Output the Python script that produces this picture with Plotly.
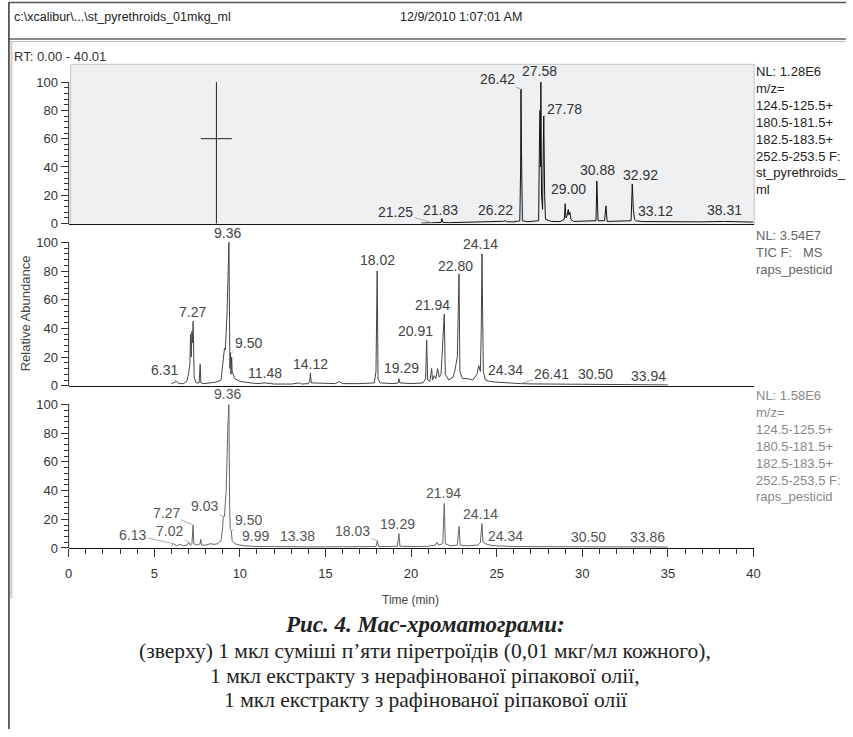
import plotly.graph_objects as go

W, H = 853, 737

# ---------------- data ----------------
# top panel: SIM chromatogram of pyrethroid standard (relative abundance, %)
top_time = [20.6, 21.0, 21.25, 21.6, 21.75, 21.8, 21.85, 22.2, 22.8, 23.5, 24.2, 25.0, 25.4, 25.5, 25.6,
            26.0, 26.22, 26.35, 26.40, 26.42, 26.45, 26.5, 26.8, 27.2, 27.45, 27.50, 27.53, 27.56, 27.58,
            27.62, 27.68, 27.72, 27.75, 27.80, 27.85, 28.2, 28.7, 28.95, 29.0, 29.05, 29.12, 29.18, 29.22,
            29.28, 29.33, 29.5, 30.4, 30.8, 30.85, 30.92, 31.3, 31.38, 31.45, 32.4, 32.85, 32.92, 32.98,
            33.05, 33.12, 33.5, 35.0, 36.0, 37.0, 38.31, 39.0, 40.0]
top_abund = [0.3, 0.4, 0.5, 0.6, 0.8, 3.5, 0.8, 0.6, 0.7, 0.8, 1.0, 1.2, 1.6, 2.0, 1.3,
             1.2, 1.5, 1.8, 40, 95, 50, 2, 1.3, 1.5, 2, 60, 80, 40, 100,
             20, 10, 50, 76, 20, 3, 1.5, 1.4, 3, 14, 4, 6, 10, 6,
             8, 3, 1.5, 1.5, 2, 30, 2, 2, 12.5, 1.5, 1.5, 2, 28, 10,
             3, 2, 1.4, 1.2, 1.3, 1.2, 1.5, 1.2, 1.0]
top_cursor_time = 8.63
top_cursor_level = 60
top_labels = ["21.25", "21.83", "26.22", "26.42", "27.58", "27.78", "29.00", "30.88", "32.92", "33.12", "38.31"]
top_label_rt = [21.25, 21.83, 26.22, 26.42, 27.58, 27.78, 29.00, 30.88, 32.92, 33.12, 38.31]
top_label_h = [0.5, 3.5, 1.5, 95, 100, 76, 14, 30, 28, 2, 1.5]

# middle panel: TIC of unrefined rapeseed oil extract
mid_time = [6.0, 6.2, 6.31, 6.45, 6.7, 6.9, 7.0, 7.08, 7.12, 7.16, 7.2, 7.24, 7.27, 7.30, 7.33, 7.45,
            7.62, 7.68, 7.72, 7.9, 8.3, 8.6, 8.9, 9.05, 9.1, 9.15, 9.25, 9.36, 9.42, 9.45, 9.48, 9.52,
            9.55, 9.7, 10.0, 10.5, 11.0, 11.48, 12.0, 13.0, 13.5, 13.6, 14.0, 14.08, 14.12, 14.17, 15.0,
            15.6, 15.8, 16.0, 17.0, 17.85, 17.95, 18.02, 18.07, 18.2, 19.0, 19.25, 19.29, 19.35, 20.0,
            20.7, 20.85, 20.91, 20.97, 21.1, 21.2, 21.25, 21.35, 21.45, 21.55, 21.65, 21.75, 21.85, 21.94,
            22.0, 22.2, 22.45, 22.55, 22.7, 22.75, 22.80, 22.85, 23.0, 23.3, 23.6, 23.85, 23.95, 24.05,
            24.10, 24.14, 24.18, 24.22, 24.34, 24.6, 25.0, 25.5, 26.0, 26.41, 27.0, 28.0, 30.0, 30.5,
            31.0, 33.0, 33.94, 35.0]
mid_abund = [1.5, 2.5, 3, 1.5, 1.5, 3, 8, 15, 36, 20, 38, 30, 45, 25, 6, 2,
             2, 15, 2, 1.5, 2, 2.5, 4, 20, 26, 25, 50, 100, 12, 23, 8, 20,
             10, 5, 3, 2, 1.5, 2, 1.2, 1.2, 2, 1.2, 1.5, 3, 9, 2, 1.5,
             1.5, 3, 1.5, 1.5, 2, 10, 80, 5, 2, 1.5, 2, 5, 2, 1.5,
             2, 5, 32, 4, 3, 12, 4, 7, 5, 12, 6, 8, 28, 50,
             8, 4, 6, 10, 20, 60, 78, 10, 5, 5, 4, 8, 14, 10,
             40, 92, 30, 10, 4, 3, 2.5, 2, 1.8, 1.5, 1.3, 1.2, 1.0, 1.2,
             0.9, 0.8, 0.8, 0.6]
mid_labels = ["9.36", "7.27", "9.50", "6.31", "11.48", "14.12", "18.02", "19.29", "20.91", "21.94",
              "22.80", "24.14", "24.34", "26.41", "30.50", "33.94"]
mid_label_rt = [9.36, 7.27, 9.50, 6.31, 11.48, 14.12, 18.02, 19.29, 20.91, 21.94, 22.80, 24.14, 24.34,
                26.41, 30.50, 33.94]
mid_label_h = [100, 45, 23, 3, 2, 9, 80, 5, 32, 50, 78, 92, 4, 1.5, 1.2, 0.8]

# bottom panel: SIM chromatogram of refined rapeseed oil extract
bot_time = [6.0, 6.13, 6.3, 6.5, 6.7, 6.9, 7.02, 7.1, 7.2, 7.24, 7.27, 7.31, 7.5, 7.68, 7.72, 7.76,
            8.0, 8.3, 8.5, 8.7, 8.9, 9.0, 9.03, 9.1, 9.2, 9.30, 9.36, 9.40, 9.44, 9.50, 9.55, 9.7, 9.99,
            10.3, 11.0, 12.0, 13.38, 14.0, 15.0, 16.0, 17.0, 17.95, 18.03, 18.1, 18.6, 19.2, 19.29,
            19.35, 20.0, 21.0, 21.4, 21.5, 21.6, 21.85, 21.94, 22.0, 22.3, 22.7, 22.80, 22.87, 23.3,
            23.9, 24.05, 24.14, 24.2, 24.34, 24.6, 25.0, 26.0, 28.0, 30.5, 31.0, 33.86, 35.0]
bot_abund = [1.5, 3, 1.5, 2.5, 1.5, 2, 4, 2, 3, 12, 16, 3, 2, 3, 6, 2,
             2, 3, 2.5, 3, 5, 15, 22, 22, 40, 85, 100, 30, 13, 12, 5, 3, 2,
             1.5, 1, 1, 1.2, 0.8, 0.8, 0.8, 0.8, 1, 5, 1, 1, 1.2, 10,
             1.2, 1, 1.2, 2, 4, 2, 3, 31, 3, 1.5, 2, 15, 2, 1.5,
             2, 4, 17, 4, 3, 2, 1.5, 1, 0.8, 1, 0.8, 0.8, 0.6]
bot_labels = ["9.36", "7.27", "9.03", "9.50", "6.13", "7.02", "9.99", "13.38", "18.03", "19.29",
              "21.94", "24.14", "24.34", "30.50", "33.86"]
bot_label_rt = [9.36, 7.27, 9.03, 9.50, 6.13, 7.02, 9.99, 13.38, 18.03, 19.29, 21.94, 24.14, 24.34,
                30.50, 33.86]
bot_label_h = [100, 16, 22, 12, 3, 4, 2, 1.2, 5, 10, 31, 17, 3, 1, 0.8]

x_ticks = [0, 5, 10, 15, 20, 25, 30, 35, 40]
y_ticks = [0, 20, 40, 60, 80, 100]

caption_title = "Рис. 4. Мас-хроматограми:"
caption_lines = ["(зверху) 1 мкл суміші п’яти піретроїдів (0,01 мкг/мл кожного),",
                 "1 мкл екстракту з нерафінованої ріпакової олії,",
                 "1 мкл екстракту з рафінованої ріпакової олії"]

# ---------------- style: label offsets (pixels, text centre relative to peak top) ----------------
top_off = [(-37, -11), (-2, -9), (-22, -11), (-24, -10), (-1, -11), (20, -7), (3, -15), (0, -11),
           (8, -9), (20, -10), (0, -11)]
mid_off = [(-1, -9), (-1, -9), (17, -10), (-12, -11), (0, -10), (0, -9), (0, -11), (3, -11),
           (-11, -9), (-12, -9), (-4, -8), (-1, -10), (20, -10), (31, -10), (5, -10), (-1, -9)]
bot_off = [(-1, -11), (-27, -12), (-19, -10), (17, -11), (-41, -9), (-19, -11), (16, -9), (0, -10),
           (-25, -10), (-1, -10), (-1, -11), (-1, -10), (20, -8), (-2, -10), (-1, -10)]


def px(x):
    return x / W


def py(y):
    return 1 - y / H


X0, X1 = 65.5, 759.3
FONT = "Liberation Sans, Arial, sans-serif"
SERIF = "Liberation Serif, Times New Roman, serif"

fig = go.Figure()
fig.add_trace(go.Scatter(x=top_time, y=top_abund, mode="lines", line=dict(color="#111", width=1),
                         xaxis="x", yaxis="y", hoverinfo="skip"))
fig.add_trace(go.Scatter(x=[top_cursor_time, top_cursor_time], y=[-2, 100], mode="lines",
                         line=dict(color="#222", width=1), xaxis="x", yaxis="y", cliponaxis=False,
                         hoverinfo="skip"))
fig.add_trace(go.Scatter(x=[top_cursor_time], y=[top_cursor_level], mode="markers",
                         marker=dict(symbol="line-ew", size=22, line=dict(color="#222", width=1)),
                         xaxis="x", yaxis="y", hoverinfo="skip"))
fig.add_trace(go.Scatter(x=mid_time, y=mid_abund, mode="lines", line=dict(color="#444", width=1),
                         xaxis="x2", yaxis="y2", hoverinfo="skip"))
fig.add_trace(go.Scatter(x=bot_time, y=bot_abund, mode="lines", line=dict(color="#666", width=1),
                         xaxis="x3", yaxis="y3", hoverinfo="skip"))

minor_y = [v for v in range(0, 101, 4) if v % 20 != 0]

def yax(dom_px, top_val):
    return dict(domain=[py(dom_px[0]), py(dom_px[1])], range=[0, top_val], showline=False,
                showgrid=False, zeroline=False, ticks="outside", tickvals=y_ticks, ticklen=8,
                tickwidth=1, tickcolor="#333", tickfont=dict(family=FONT, size=13, color="#333"),
                minor=dict(tickvals=minor_y, ticklen=5, tickcolor="#333", ticks="outside"),
                anchor="free", position=px(X0), fixedrange=True)

def xax(anchor, show):
    d = dict(domain=[px(X0), px(X1)], range=[0, 40], anchor=anchor, showline=True, linecolor="#111",
             linewidth=1, showgrid=False, zeroline=False, fixedrange=True)
    if show:
        d.update(ticks="outside", tickvals=x_ticks, ticklen=8, tickcolor="#333",
                 tickfont=dict(family=FONT, size=13, color="#333"), ticklabelstandoff=5,
                 minor=dict(dtick=1, ticklen=5, tickcolor="#333", ticks="outside"))
    else:
        d.update(showticklabels=False, ticks="")
    return d

fig.update_layout(
    width=W, height=H, margin=dict(l=0, r=0, t=0, b=0),
    paper_bgcolor="white", plot_bgcolor="rgba(0,0,0,0)", showlegend=False,
    xaxis=xax("y", False), xaxis2=xax("y2", False), xaxis3=xax("y3", True),
    yaxis=yax((226, 65), (226 - 65) / 1.43),
    yaxis2=yax((390, 232), (390 - 232) / 1.45),
    yaxis3=yax((554, 397), (554 - 397) / 1.45),
)

shapes = []
# top panel grey box
shapes.append(dict(type="rect", xref="paper", yref="paper", x0=px(67.5), x1=px(760), y0=py(227), y1=py(65),
                   fillcolor="#eef0f2", line=dict(color="#c4c4c4", width=1), layer="below"))
# y axis lines 0..100
for yr in ["y", "y2", "y3"]:
    shapes.append(dict(type="line", xref="paper", yref=yr, x0=px(X0), x1=px(X0), y0=0, y1=100,
                       line=dict(color="#333", width=1)))
# window frame / header
shapes.append(dict(type="line", xref="paper", yref="paper", x0=px(5), x1=1, y0=py(2.5), y1=py(2.5),
                   line=dict(color="#555", width=1.5)))
shapes.append(dict(type="line", xref="paper", yref="paper", x0=px(5), x1=1, y0=py(39.5), y1=py(39.5),
                   line=dict(color="#666", width=1.5)))
shapes.append(dict(type="line", xref="paper", yref="paper", x0=px(5), x1=1, y0=py(42), y1=py(42),
                   line=dict(color="#bbb", width=1)))
shapes.append(dict(type="line", xref="paper", yref="paper", x0=px(5), x1=px(5), y0=py(2), y1=0,
                   line=dict(color="#333", width=1.5)))
shapes.append(dict(type="line", xref="paper", yref="paper", x0=px(7.5), x1=px(7.5), y0=py(42), y1=py(605),
                   line=dict(color="#ccc", width=2)))
fig.update_layout(shapes=shapes)

ann = []

def peak_labels(labels, rts, hs, offs, xr, yr, color):
    for t, rt, h, (ax, ay) in zip(labels, rts, hs, offs):
        leader = abs(ax) > 6
        ann.append(dict(x=rt, y=h, xref=xr, yref=yr, text=t, showarrow=True, arrowhead=0,
                        arrowwidth=0.8, arrowcolor="#999" if leader else "rgba(0,0,0,0)",
                        ax=ax, ay=ay, standoff=0, startstandoff=0,
                        font=dict(family=FONT, size=14, color=color)))

peak_labels(top_labels, top_label_rt, top_label_h, top_off, "x", "y", "#333")
peak_labels(mid_labels, mid_label_rt, mid_label_h, mid_off, "x2", "y2", "#444")
peak_labels(bot_labels, bot_label_rt, bot_label_h, bot_off, "x3", "y3", "#555")

def text(x, y, t, size=13, color="#333", xanchor="left", family=FONT, angle=0, yanchor="middle"):
    ann.append(dict(x=px(x), y=py(y), xref="paper", yref="paper", text=t, showarrow=False,
                    xanchor=xanchor, yanchor=yanchor, textangle=angle,
                    align=xanchor if xanchor != "center" else "center",
                    font=dict(family=family, size=size, color=color)))

text(8, 17, r"c:\xcalibur\...\st_pyrethroids_01mkg_ml", size=12.5, color="#222")
text(463, 17, "12/9/2010 1:07:01 AM", size=12.5, color="#222", xanchor="center")
text(8, 57, "RT: 0.00 - 40.01", size=13, color="#333")
text(22, 317, "Relative Abundance", size=13, color="#444", xanchor="center", angle=-90)
text(412, 607, "Time (min)", size=12, color="#444", xanchor="center")

text(760, 63, "NL: 1.28E6<br>m/z=<br>124.5-125.5+<br>180.5-181.5+<br>182.5-183.5+<br>252.5-253.5 F:"
     "<br>st_pyrethroids_<br>ml", size=13, color="#222", yanchor="top")
text(760, 228, "NL: 3.54E7<br>TIC F:   MS<br>raps_pesticid", size=13, color="#666", yanchor="top")
text(760, 390, "NL: 1.58E6<br>m/z=<br>124.5-125.5+<br>180.5-181.5+<br>182.5-183.5+<br>252.5-253.5 F:"
     "<br>raps_pesticid", size=13, color="#888", yanchor="top")

text(427, 631, "<b><i>" + caption_title + "</i></b>", size=23, color="#222", xanchor="center",
     family=SERIF)
for line, yy in zip(caption_lines, [658, 683, 708]):
    text(427, yy, line, size=21.5, color="#222", xanchor="center", family=SERIF)

fig.update_layout(annotations=ann)
fig.write_html("out.html")
